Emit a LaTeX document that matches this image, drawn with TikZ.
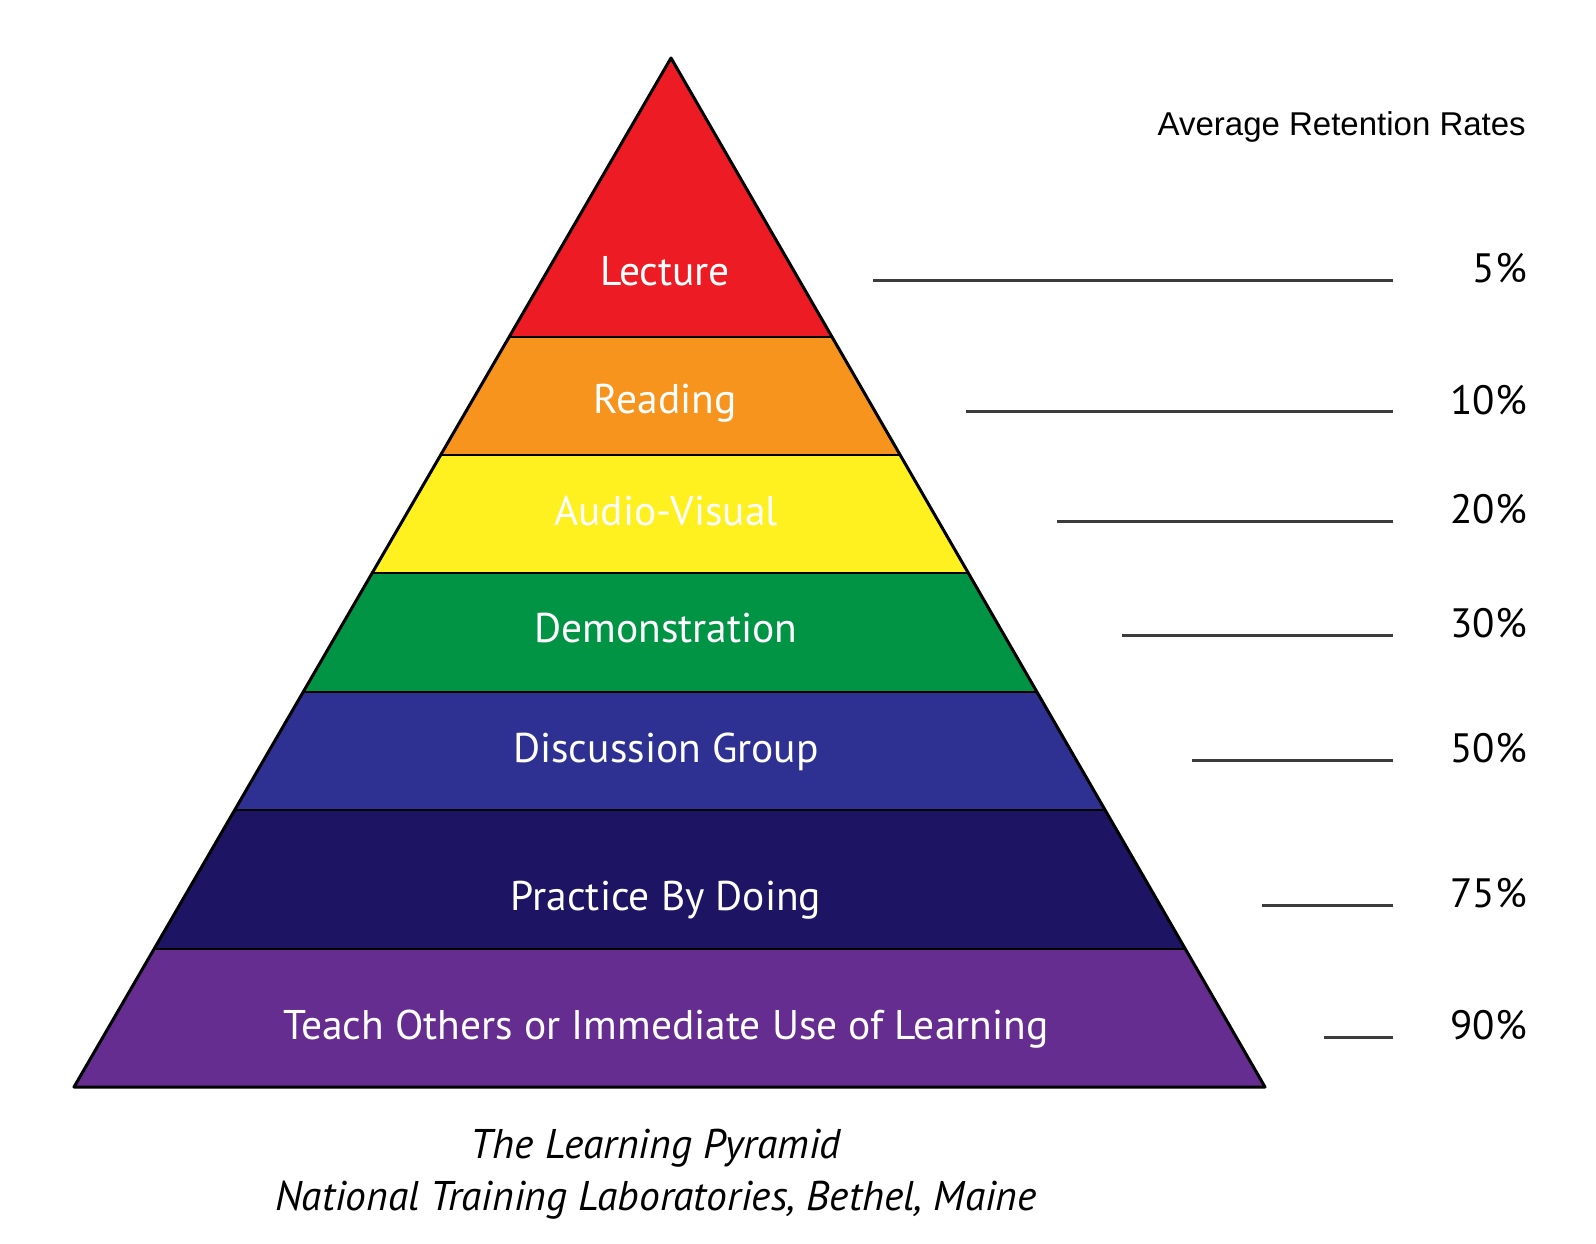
\documentclass[tikz,border=0pt]{standalone}
\usepackage{fontspec}
\setmainfont{PT Sans}
\newfontfamily\arialfont{Liberation Sans}
\usetikzlibrary{calc,positioning}
\definecolor{LectureRed}{HTML}{ED1C24}
\definecolor{ReadOrange}{HTML}{F7941D}
\definecolor{AVYellow}{HTML}{FFF01F}
\definecolor{DemoGreen}{HTML}{009444}
\definecolor{DiscBlue}{HTML}{2E3192}
\definecolor{PracNavy}{HTML}{1D1563}
\definecolor{TeachPurple}{HTML}{662D91}
\definecolor{GuideGray}{HTML}{3C3C3C}
\tikzset{edge/.style={draw=black,line width=3pt,line join=round},sep/.style={draw=black,line width=2.5pt},level/.style={text=white,font=\fontsize{41.5}{46}\selectfont,anchor=base,inner sep=0pt},rate/.style={font=\fontsize{41}{46}\selectfont,anchor=base east,inner sep=0pt},guide/.style={draw=GuideGray,line width=3pt},caption/.style={font=\fontsize{41.5}{46}\selectfont\itshape,anchor=base,inner sep=0pt}}

\begin{document}
\begin{tikzpicture}[x=1pt,y=-1pt]
      \useasboundingbox[fill=white](0,0)rectangle(1596,1244);
      \coordinate(apex)at(671,58);\coordinate(bl)at(74,1087);\coordinate(br)at(1265,1087);
      % bands, top to bottom
      \fill[LectureRed](apex)--($(apex)!.2711!(br)$)--($(apex)!.2711!(bl)$)--cycle;
      \fill[ReadOrange]($(apex)!.2711!(bl)$)--($(apex)!.3858!(bl)$)--($(apex)!.3858!(br)$)--($(apex)!.2711!(br)$)--cycle;
      \fill[AVYellow]($(apex)!.3858!(bl)$)--($(apex)!.5005!(bl)$)--($(apex)!.5005!(br)$)--($(apex)!.3858!(br)$)--cycle;
      \fill[DemoGreen]($(apex)!.5005!(bl)$)--($(apex)!.6161!(bl)$)--($(apex)!.6161!(br)$)--($(apex)!.5005!(br)$)--cycle;
      \fill[DiscBlue]($(apex)!.6161!(bl)$)--($(apex)!.7308!(bl)$)--($(apex)!.7308!(br)$)--($(apex)!.6161!(br)$)--cycle;
      \fill[PracNavy]($(apex)!.7308!(bl)$)--($(apex)!.8659!(bl)$)--($(apex)!.8659!(br)$)--($(apex)!.7308!(br)$)--cycle;
      \fill[TeachPurple]($(apex)!.8659!(bl)$)--(bl)--(br)--($(apex)!.8659!(br)$)--cycle;
      \draw[sep]($(apex)!.2711!(bl)$)--($(apex)!.2711!(br)$);\draw[sep]($(apex)!.3858!(bl)$)--($(apex)!.3858!(br)$);
      \draw[sep]($(apex)!.5005!(bl)$)--($(apex)!.5005!(br)$);\draw[sep]($(apex)!.6161!(bl)$)--($(apex)!.6161!(br)$);
      \draw[sep]($(apex)!.7308!(bl)$)--($(apex)!.7308!(br)$);\draw[sep]($(apex)!.8659!(bl)$)--($(apex)!.8659!(br)$);
      \draw[edge](apex)--(bl)--(br)--cycle;
      % labels
      \node[level](lecture)at(665,285){Lecture};
      \node[level](reading)at(665,413){Reading};
      \node[level](audio)at(666,525){Audio-Visual};
      \node[level](demo)at(666,642){Demonstration};
      \node[level](discuss)at(666,762){Discussion Group};
      \node[level](practice)at(666,910){Practice By Doing};
      \node[level](teach)at(666,1039){Teach Others or Immediate Use of Learning};
      % retention rates
      \node[font=\arialfont\fontsize{33}{38}\selectfont,anchor=base east,inner sep=0pt](head)at(1526,136){Average Retention Rates};
      \coordinate(gend)at(1393,0);
      \coordinate(g5)at(873,280);\coordinate(g10)at(966,411);\coordinate(g20)at(1057,521);\coordinate(g30)at(1122,635);
      \coordinate(g50)at(1192,760);\coordinate(g75)at(1262,905);\coordinate(g90)at(1324,1037);
      \node[rate](p5)at(1527,282){5\%};\node[rate](p10)at(1527,414){10\%};\node[rate](p20)at(1527,523){20\%};
      \node[rate](p30)at(1527,637){30\%};\node[rate](p50)at(1527,762){50\%};\node[rate](p75)at(1527,907){75\%};
      \node[rate](p90)at(1527,1039){90\%};
      \draw[guide](g5)--(g5-|gend);\draw[guide](g10)--(g10-|gend);\draw[guide](g20)--(g20-|gend);\draw[guide](g30)--(g30-|gend);
      \draw[guide](g50)--(g50-|gend);\draw[guide](g75)--(g75-|gend);\draw[guide](g90)--(g90-|gend);
      % caption
      \node[caption](title)at(656,1158){The Learning Pyramid};
      \node[caption](source)at(656,1210){National Training Laboratories, Bethel, Maine};
    \end{tikzpicture}
\end{document}
